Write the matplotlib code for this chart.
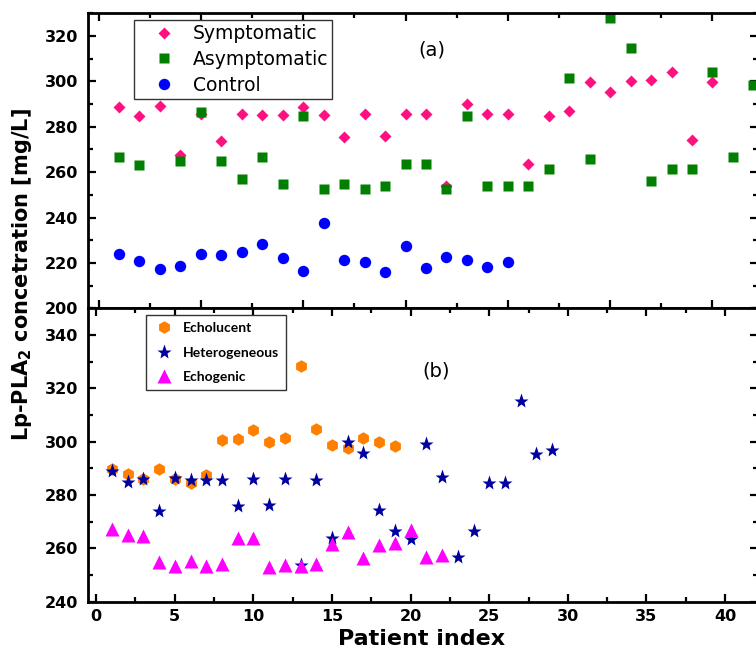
import numpy as np
import matplotlib
matplotlib.use('Agg')
import matplotlib.pyplot as plt
from matplotlib.ticker import MultipleLocator

plt.rcParams['font.family'] = ['DejaVu Sans']

# (a) Lp-PLA2 per patient group
sym_x = list(range(1, 31))
sym_y = [288.5, 284.6, 289.3, 267.7, 285.6, 273.9, 285.6, 285.2, 285.2, 288.5,
         285.4, 275.7, 285.6, 275.9, 285.6, 285.6, 254.1, 290.0, 285.6, 285.8,
         263.7, 284.9, 287.1, 299.8, 295.4, 300.2, 300.5, 304.2, 274.2, 299.8]

asym_x = [1, 2] + list(range(4, 33))
asym_y = [266.6, 263.2, 264.7, 286.3, 264.7, 256.8, 266.6, 254.9, 284.6, 252.7,
          254.9, 252.7, 254.1, 263.7, 263.7, 252.7, 284.6, 253.7, 253.7, 254.1,
          261.2, 301.4, 265.9, 328.0, 314.9, 256.3, 261.2, 261.5, 304.3, 266.6,
          298.5]

ctrl_x = list(range(1, 21))
ctrl_y = [223.8, 220.9, 217.1, 218.7, 223.8, 223.4, 224.6, 228.5, 222.2, 216.4,
          237.8, 221.2, 220.5, 216.1, 227.5, 217.8, 222.7, 221.2, 218.3, 220.2]

# (b) Lp-PLA2 per plaque type
eluc_x = list(range(1, 20))
eluc_y = [289.6, 288.0, 286.1, 289.9, 285.9, 284.6, 287.4, 300.6, 301.0, 304.2,
          299.9, 301.4, 328.4, 304.6, 298.7, 297.7, 301.2, 299.8, 298.3]

het_x = list(range(1, 30))
het_y = [289.0, 284.9, 285.9, 274.1, 286.5, 285.5, 285.5, 285.5, 275.7, 285.9,
         276.2, 285.9, 253.9, 285.5, 263.9, 299.9, 295.6, 274.3, 266.6, 263.5,
         299.2, 286.8, 256.9, 266.6, 284.6, 284.6, 315.1, 295.2, 296.7]

egen_x = list(range(1, 23))
egen_y = [267.2, 265.0, 264.7, 255.0, 253.3, 255.1, 253.3, 254.2, 263.9, 263.9,
          252.9, 253.9, 253.3, 254.2, 261.6, 266.3, 256.4, 261.4, 261.9, 266.9,
          256.9, 257.6]

W, H = 756, 648
fig = plt.figure(figsize=(W / 100, H / 100), dpi=100)
left = 88.3 / W
width = (757.5 - 88.3) / W
ax1 = fig.add_axes([left, 1 - 308.3 / H, width, (308.3 - 13.3) / H])
ax2 = fig.add_axes([left, 1 - 601.7 / H, width, (601.7 - 308.3) / H])


def style_axis(ax):
    for sp in ax.spines.values():
        sp.set_linewidth(2.0)
    ax.tick_params(which='both', direction='in', top=True, right=True,
                   width=1.6, labelsize=11.5)
    ax.tick_params(which='major', length=6)
    ax.tick_params(which='minor', length=3.8)
    ax.tick_params(axis='y', which='major', pad=7)
    ax.tick_params(axis='x', which='major', pad=5.5)
    ax.xaxis.set_major_locator(MultipleLocator(5))
    ax.xaxis.set_minor_locator(MultipleLocator(2.5))
    ax.yaxis.set_major_locator(MultipleLocator(20))
    ax.yaxis.set_minor_locator(MultipleLocator(10))
    for lab in ax.get_yticklabels() + ax.get_xticklabels():
        lab.set_fontweight('bold')


ax1.plot(sym_x, sym_y, 'D', color='#ff1080', ms=6.6, mec='none', label='Symptomatic')
ax1.plot(asym_x, asym_y, 's', color='#007f00', ms=7.8, mec='none', label='Asymptomatic')
ax1.plot(ctrl_x, ctrl_y, 'o', color='#0000ff', ms=8.2, mec='none', label='Control')
ax1.set_xlim(-0.5, 32.2)
ax1.set_ylim(200, 330)
style_axis(ax1)
ax1.tick_params(labelbottom=False)
ax1.text(432 / W, 1 - 50 / H, '(a)', transform=fig.transFigure,
         ha='center', va='center', fontsize=14)
leg1 = ax1.legend(loc='upper left', bbox_to_anchor=(0.0687, 0.977),
                  borderaxespad=0, numpoints=1, fontsize=13.5, frameon=True,
                  fancybox=False, edgecolor='#333333', framealpha=1,
                  labelspacing=0.36, handletextpad=0.2, borderpad=0.22,
                  handlelength=2.7)
leg1.get_frame().set_linewidth(1.0)

ax2.plot(eluc_x, eluc_y, 'h', color='#ff8000', ms=9, mec='none', label='Echolucent')
ax2.plot(het_x, het_y, '*', color='#0000a0', ms=11, mec='none', label='Heterogeneous')
ax2.plot(egen_x, egen_y, '^', color='#ff00ff', ms=9.5, mec='none', label='Echogenic')
ax2.set_xlim(-0.5, 42.06)
ax2.set_ylim(240, 350)
style_axis(ax2)
ax2.text(436 / W, 1 - 371 / H, '(b)', transform=fig.transFigure,
         ha='center', va='center', fontsize=14)
leg2 = ax2.legend(loc='upper left', bbox_to_anchor=(0.0858, 0.976),
                  borderaxespad=0, numpoints=1, frameon=True,
                  prop={'family': 'Lato', 'weight': 'bold', 'size': 10},
                  fancybox=False, edgecolor='#333333', framealpha=1,
                  labelspacing=0.9, handletextpad=0.6, borderpad=0.5,
                  handlelength=1.6)
leg2.get_frame().set_linewidth(1.0)

fig.text(22 / W, 1 - 275 / H, 'Lp-PLA$_\\mathbf{2}$ concetration [mg/L]',
         rotation=90, ha='center', va='center', fontsize=15, fontweight='bold')
fig.text(422 / W, 1 - 645 / H, 'Patient index', ha='center', va='baseline',
         fontsize=16, fontweight='bold')

fig.savefig('out.png', dpi=100)
